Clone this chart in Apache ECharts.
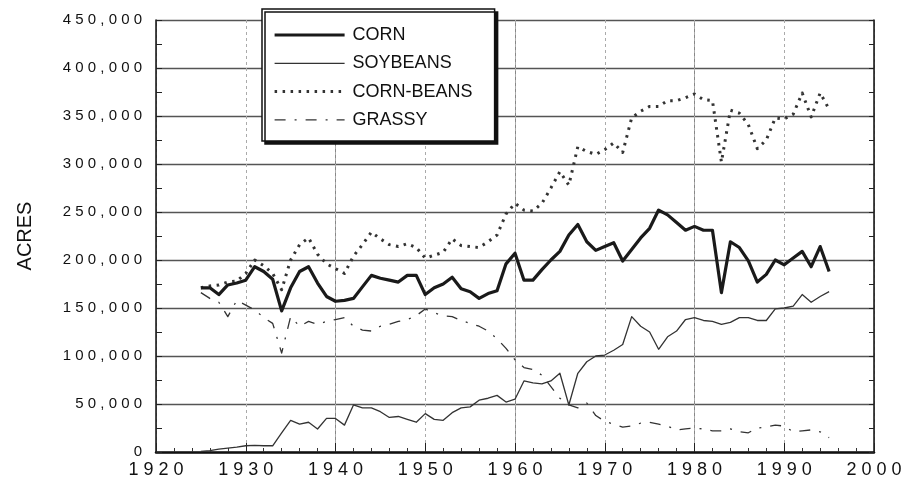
<!DOCTYPE html>
<html>
<head>
<meta charset="utf-8">
<script src="https://cdn.jsdelivr.net/npm/echarts@6/dist/echarts.min.js"></script>
<style>
  html, body { margin: 0; padding: 0; background: #fff; }
  #chart { width: 915px; height: 490px; }
</style>
</head>
<body>
<div id="chart"></div>
<script>
const years = [1925,1926,1927,1928,1929,1930,1931,1932,1933,1934,1935,1936,1937,1938,1939,
  1940,1941,1942,1943,1944,1945,1946,1947,1948,1949,1950,1951,1952,1953,1954,1955,1956,1957,1958,1959,
  1960,1961,1962,1963,1964,1965,1966,1967,1968,1969,1970,1971,1972,1973,1974,1975,1976,1977,1978,1979,
  1980,1981,1982,1983,1984,1985,1986,1987,1988,1989,1990,1991,1992,1993,1994,1995];

const corn = [171000,171000,164000,174000,176000,179000,193000,188000,180000,147000,171000,188000,193000,176000,162000,
  157000,158000,160000,172000,184000,181000,179000,177000,184000,184000,164000,171000,175000,182000,170000,167000,160000,165000,168000,196000,
  207000,179000,179000,190000,200000,209000,226000,237000,219000,210000,214000,218000,199000,211000,223000,233000,252000,247000,239000,231000,
  235000,231000,231000,166000,219000,213000,199000,177000,185000,200000,195000,202000,209000,193000,214000,188000];

const soybeans = [500,1500,3000,4000,5000,6500,7000,6500,6500,20000,33000,29000,31000,24000,35000,
  35000,28000,49000,46000,46000,42000,36000,37000,34000,31000,40000,34000,33000,41000,46000,47000,54000,56000,59000,52000,
  55000,74000,72000,71000,74000,82000,49000,82000,94000,100000,101000,106000,112000,141000,131000,125000,107000,120000,126000,138000,
  140000,137000,136000,133000,135000,140000,140000,137000,137000,149000,150000,152000,164000,156000,162000,167000];

const cornBeans = [171000,173000,174000,177000,178000,186000,200000,194000,186000,169000,200000,216000,223000,206000,196000,
  191000,186000,204000,216000,229000,222000,216000,214000,217000,213000,202000,205000,208000,222000,215000,214000,213000,219000,226000,248000,
  259000,252000,251000,259000,275000,292000,278000,318000,313000,310000,315000,322000,312000,348000,355000,360000,360000,366000,366000,369000,
  373000,367000,366000,302000,356000,353000,341000,316000,325000,348000,347000,352000,374000,349000,374000,357000];

const grassy = [166000,160000,156000,141000,158000,153000,148000,140000,134000,103000,141000,131000,136000,133000,136000,
  138000,140000,131000,127000,126000,131000,133000,136000,138000,142000,149000,145000,142000,141000,137000,134000,131000,126000,118000,108000,
  96000,88000,86000,80000,68000,56000,49000,46000,51000,38000,32000,29000,26000,27000,30000,31000,29000,27000,23000,24000,
  25000,24000,22000,22000,24000,21000,20000,25000,26000,28000,27000,21000,22000,23000,21000,15000];

const seriesNames = ['CORN', 'SOYBEANS', 'CORN-BEANS', 'GRASSY'];
const yAxisTitle = 'ACRES';

function pairs(vals) { return years.map((y, i) => [y, vals[i]]); }
function spaced(s) { return String(s).split('').join(' '); }

const FONT = '"Liberation Sans", Arial, Helvetica, sans-serif';
const styles = [
  { color: '#1a1a1a', width: 3.2, type: 'solid' },
  { color: '#333', width: 1.3, type: 'solid' },
  { color: '#333', width: 3, type: [2.5, 5.5] },
  { color: '#333', width: 1.3, type: [11, 9, 2, 9] }
];
const chart = echarts.init(document.getElementById('chart'), null, { renderer: 'canvas' });

chart.setOption({
  animation: false,
  backgroundColor: '#fff',
  grid: { left: 156, right: 41, top: 20, bottom: 38, containLabel: false },
  legend: {
    orient: 'vertical',
    left: 262, top: 9,
    itemWidth: 70, itemHeight: 14, itemGap: 10.3,
    padding: [17, 22, 12, 11],
    backgroundColor: '#fff',
    borderColor: '#111', borderWidth: 1.5, borderRadius: 0,
    shadowColor: '#111', shadowOffsetX: 3, shadowOffsetY: 3, shadowBlur: 0,
    selectedMode: false,
    itemStyle: { opacity: 0 },
    textStyle: { fontFamily: FONT, fontSize: 18, color: '#111', lineHeight: 18, padding: [0, 0, 0, 3] },
    data: seriesNames.map((n, i) => ({ name: n, lineStyle: { width: styles[i].width, type: styles[i].type, color: styles[i].color } }))
  },
  xAxis: [{
    type: 'value', min: 1920, max: 2000, interval: 10,
    axisLine: { show: true, lineStyle: { color: '#111', width: 2.5 } },
    axisTick: { show: true, inside: true, length: 9, lineStyle: { color: '#222', width: 1 } },
    minorTick: { show: true, splitNumber: 5, length: 4, lineStyle: { color: '#333', width: 1 } },
    splitLine: { show: true, lineStyle: { color: ['#888', 'rgba(0,0,0,0)'], width: 1 } },
    axisLabel: { margin: 9, fontFamily: FONT, fontSize: 18, color: '#111', formatter: v => spaced(v) }
  }, {
    type: 'value', min: 1920, max: 2000, interval: 10, position: 'bottom',
    axisLine: { show: false }, axisTick: { show: false }, axisLabel: { show: false },
    splitLine: { show: true, lineStyle: { color: '#aaa', width: 1, type: [3, 3] } }
  }],
  yAxis: [{
    type: 'value', min: 0, max: 450000, interval: 50000, position: 'left',
    name: yAxisTitle, nameLocation: 'middle', nameRotate: 90, nameGap: 121,
    nameTextStyle: { fontFamily: FONT, fontSize: 20, color: '#111' },
    axisLine: { show: true, lineStyle: { color: '#111', width: 1.5 } },
    axisTick: { show: true, inside: true, length: 6, lineStyle: { color: '#222' } },
    minorTick: { show: true, splitNumber: 2, length: 6, lineStyle: { color: '#222' } },
    splitLine: { show: true, lineStyle: { color: '#555', width: 1.3 } },
    axisLabel: { margin: 14, fontFamily: FONT, fontSize: 15, color: '#111',
      formatter: v => spaced(v.toLocaleString('en-US')) }
  }, {
    type: 'value', min: 0, max: 450000, interval: 50000, position: 'right',
    axisLine: { show: true, lineStyle: { color: '#111', width: 1.5 } },
    axisTick: { show: true, inside: true, length: 5, lineStyle: { color: '#222' } },
    minorTick: { show: true, splitNumber: 2, length: 5, lineStyle: { color: '#222' } },
    splitLine: { show: false },
    axisLabel: { show: false }
  }],
  series: [corn, soybeans, cornBeans, grassy].map((vals, i) => ({
    name: seriesNames[i], type: 'line', xAxisIndex: 0, yAxisIndex: 0, symbol: 'none', z: i === 0 ? 5 : 4,
    lineStyle: { color: styles[i].color, width: styles[i].width, type: styles[i].type, join: 'round' },
    itemStyle: { color: styles[i].color },
    data: pairs(vals)
  }))
});
</script>
</body>
</html>
